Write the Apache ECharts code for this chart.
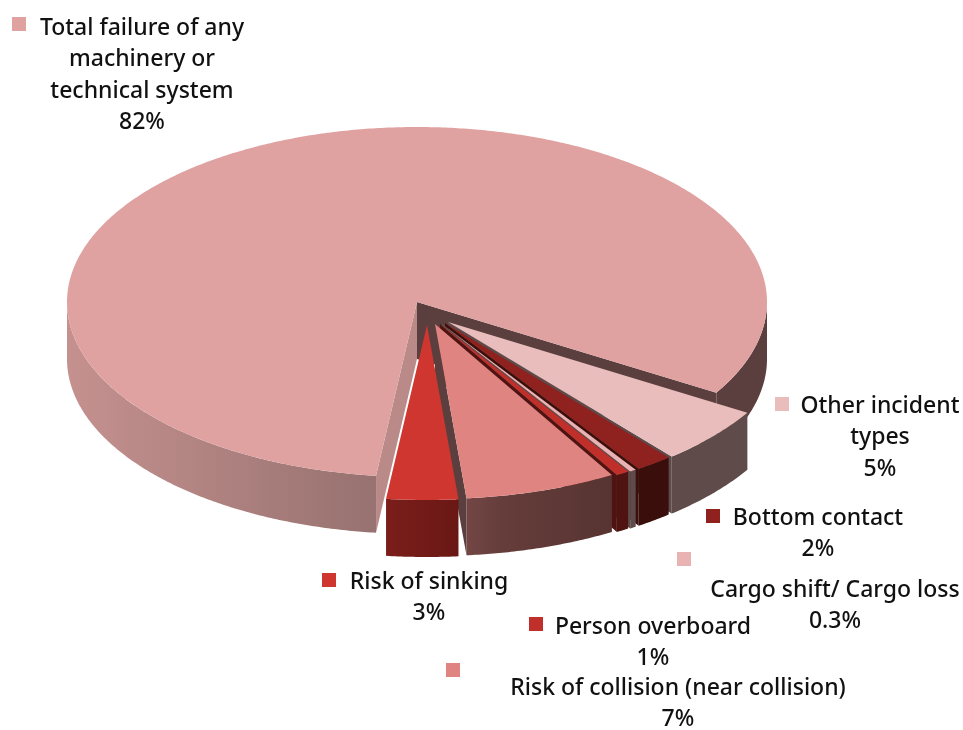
<!DOCTYPE html>
<html>
<head>
<meta charset="utf-8">
<style>html,body{margin:0;padding:0;background:#fff}#c{width:963px;height:730px}</style>
<script src="https://cdn.jsdelivr.net/npm/echarts@6/dist/echarts.min.js"></script>
</head>
<body>
<div id="c"></div>
<script>
// ---- data (order follows the pie, clockwise from the start angle)
var categories = ['Other incident types','Bottom contact','Cargo shift/ Cargo loss','Person overboard','Risk of collision (near collision)','Risk of sinking','Total failure of any machinery or technical system'];
// shares as measured from the slice angles in the picture; they round to the printed labels
var values = [5.3,1.7,0.3,0.6,7,3.3,81.8];
var valueLabels = ['5%','2%','0.3%','1%','7%','3%','82%'];
var labelLines = [['Other incident','types'],['Bottom contact'],['Cargo shift/ Cargo loss'],['Person overboard'],['Risk of collision (near collision)'],['Risk of sinking'],['Total failure of any','machinery or','technical system']];

// ---- styling and layout
var topColors = ['#E8BDBC','#8F211E','#E9B3B3','#C12F2B','#E08482','#CF3630','#DFA2A1'];
var wallStops = [
  [[0,'#5E4B4A'],[1,'#5E4B4A']],
  [[0,'#3A0F0B'],[1,'#3A0F0B']],
  [[0,'#5F4B4B'],[1,'#5F4B4B']],
  [[0,'#4F1412'],[1,'#4F1412']],
  [[0,'#734644'],[0.25,'#653D3B'],[1,'#573431']],
  [[0,'#7A1E1A'],[1,'#6A1815']],
  [[0,'#C5918F'],[0.44,'#977270'],[0.93,'#5A3F3E'],[1,'#5A3F3E']]
];
var startFace = [null,null,null,null,null,null,'#B98A88'];
var endFace   = ['#5C4B4A','#3A0F0B','#5F4B4B','#4F1412','#5A3F3E',null,'#5A3F3E'];
var explode = [[31,20],[28,21],[25,22],[23,22],[18,22],[10,23],[0,0]];
var labelPos = [
  {cx:880,y:406,mx:775,my:397},
  {cx:818,y:518,mx:706,my:509},
  {cx:835,y:590,mx:677,my:552},
  {cx:653,y:627,mx:529,my:617},
  {cx:678,y:688,mx:446,my:663},
  {cx:429,y:582,mx:322,my:573},
  {cx:142,y:28,mx:12,my:17}
];
var pie = {cx:417,cy:302,rx:350,ry:175,depth:57,startDeg:31.2};
var lineGap = 31.6;
var fontStyle = '500 23px "Noto Sans", "Open Sans", sans-serif';
var drawOrder = [6,0,1,2,3,4,5];

var total = values.reduce(function(a,b){return a+b;},0);
var angles = [], acc = pie.startDeg;
values.forEach(function(v){ var sweep = v/total*360; angles.push([acc,acc+sweep]); acc += sweep; });

function pt(i,deg,down){
  var r = deg*Math.PI/180;
  return [pie.cx+explode[i][0]+pie.rx*Math.cos(r), pie.cy+explode[i][1]+pie.ry*Math.sin(r)+(down||0)];
}
function tip(i,down){ return [pie.cx+explode[i][0], pie.cy+explode[i][1]+(down||0)]; }
function arc(i,a,b,down){
  var out=[], n=Math.max(2,Math.ceil(Math.abs(b-a)/0.5));
  for(var k=0;k<=n;k++){ out.push(pt(i,a+(b-a)*k/n,down)); }
  return out;
}
function wallRanges(a,b){
  var res=[];
  for(var k=0;k<2;k++){
    var lo=Math.max(a,360*k), hi=Math.min(b,180+360*k);
    if(hi>lo) res.push([lo,hi]);
  }
  return res;
}

function renderSlice(i){
  var a=angles[i], kids=[], d=pie.depth;
  // radial cut faces that look towards the viewer
  if(startFace[i]) kids.push({type:'polygon',shape:{points:[tip(i),pt(i,a[0]),pt(i,a[0],d),tip(i,d)]},style:{fill:startFace[i]}});
  if(endFace[i]) kids.push({type:'polygon',shape:{points:[tip(i),pt(i,a[1]),pt(i,a[1],d),tip(i,d)]},style:{fill:endFace[i]}});
  // outer wall
  wallRanges(a[0],a[1]).forEach(function(r){
    var top=arc(i,r[0],r[1],0), bot=arc(i,r[1],r[0],d);
    var xs=top.map(function(p){return p[0];});
    var x0=Math.min.apply(null,xs), x1=Math.max.apply(null,xs);
    if(i===6){ x0=pie.cx-pie.rx; x1=pie.cx+pie.rx; }
    kids.push({type:'polygon',shape:{points:top.concat(bot)},style:{
      fill:new echarts.graphic.LinearGradient(x0,0,x1,0,wallStops[i].map(function(s){return {offset:s[0],color:s[1]};}),true)
    }});
  });
  // top face
  kids.push({type:'polygon',shape:{points:[tip(i)].concat(arc(i,a[0],a[1],0))},style:{fill:topColors[i]}});
  return {type:'group',children:kids};
}

function renderLabels(params,api){
  var i=params.dataIndex, lp=labelPos[i], kids=[];
  kids.push({type:'rect',shape:{x:lp.mx,y:lp.my,width:14,height:14},style:{fill:topColors[i]}});
  labelLines[i].concat([valueLabels[i]]).forEach(function(t,k){
    kids.push({type:'text',style:{text:t,x:lp.cx,y:lp.y+k*lineGap,align:'center',verticalAlign:'middle',font:fontStyle,fill:'#111'}});
  });
  return {type:'group',children:kids};
}

var chart = echarts.init(document.getElementById('c'),null,{renderer:'canvas',width:963,height:730});
chart.setOption({
  animation:false,
  backgroundColor:'#fff',
  series:drawOrder.map(function(i,k){
    return {type:'custom',coordinateSystem:'none',silent:true,z:2+k,
      data:[{name:categories[i],value:values[i]}],
      renderItem:function(){ return renderSlice(i); }};
  }).concat([
    {type:'custom',coordinateSystem:'none',silent:true,z:20,data:categories.map(function(c,i){return {name:c,value:values[i]};}),renderItem:renderLabels}
  ])
});
</script>
</body>
</html>
